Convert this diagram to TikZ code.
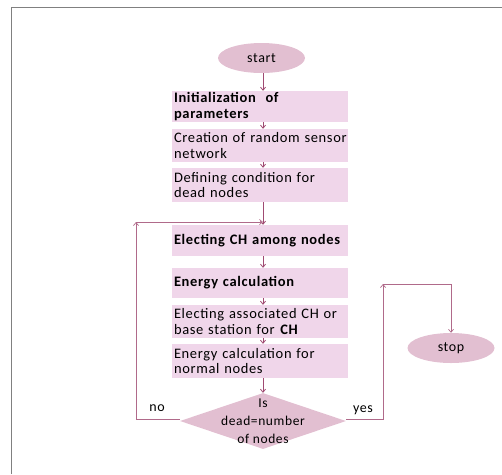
\documentclass[tikz,border=0pt]{standalone}
\usepackage{fontspec}
\setmainfont{Carlito}[LetterSpace=4.5]
\usetikzlibrary{shapes.geometric,arrows.meta}
\definecolor{boxfill}{HTML}{F0D6EA}
\definecolor{ellfill}{HTML}{E2BFD1}
\definecolor{arrcol}{HTML}{A04A72}
\definecolor{loopcol}{HTML}{B06A8A}
\definecolor{framecol}{HTML}{808080}
\newcommand{\boxfont}{\fontsize{14.5}{15.5}\selectfont\hyphenpenalty=10000\relax\exhyphenpenalty=10000\relax}
\tikzset{
  stepbox/.style={rectangle, fill=boxfill, minimum width=176pt, text width=172pt,
    inner xsep=2pt, inner ysep=0pt, align=left, font=\boxfont},
  termnode/.style={ellipse, fill=ellfill, minimum width=87pt, minimum height=30pt,
    inner sep=0pt, font=\fontsize{14}{15}\selectfont},
  arr/.style={draw=arrcol, line width=0.8pt, -{Straight Barb[length=3pt,width=5pt]}},
  loopline/.style={draw=loopcol, line width=0.7pt},
  looparr/.style={loopline, -{Straight Barb[length=3pt,width=5pt]}},
  lbl/.style={font=\fontsize{14}{15}\selectfont, inner sep=0pt}
}
\begin{document}
\begin{tikzpicture}[x=1pt,y=-1pt]
\useasboundingbox (0,0) rectangle (502,474);
\draw[framecol, line width=1pt] (11,474) -- (11,7) -- (502,7);

\node[termnode] (start) at (261.5,58) {start};
\node[stepbox, minimum height=31pt] (b1) at (260,106.5) {\textbf{Initialization\ \ of}\\\textbf{parameters}};
\node[stepbox, minimum height=33pt] (b2) at (260,145.5) {Creation of random sensor\\network};
\node[stepbox, minimum height=34pt] (b3) at (260,185) {Defining condition for\\dead nodes};
\node[stepbox, minimum height=31pt] (b4) at (260,240.5) {\textbf{Electing CH among nodes}};
\node[stepbox, minimum height=30pt] (b5) at (260,283) {\textbf{Energy calculation}};
\node[stepbox, minimum height=33pt] (b6) at (260,321.5) {Electing associated CH or\\base station for \textbf{CH}};
\node[stepbox, minimum height=34pt] (b7) at (260,361) {Energy calculation for\\normal nodes};
\node[diamond, fill=ellfill, minimum width=166pt, minimum height=56pt, inner sep=0pt] (dia) at (263,421) {};
\node[lbl, align=center, font=\fontsize{13.5}{18}\selectfont] (diat) at (dia.center) {Is\\dead=number\\of nodes};
\node[termnode] (stop) at (451,348) {stop};

\node[lbl] (no) at (157,408) {no};
\node[lbl] (yes) at (363,410) {yes};

\draw[arr] (start.south -| 263,0) -- (b1.north -| 263,0);
\draw[arr] (b1.south -| 263,0) -- (b2.north -| 263,0);
\draw[arr] (b2.south -| 263,0) -- (b3.north -| 263,0);
\draw[arr] (b3.south -| 263,0) -- (b4.north -| 263,0);
\draw[arr] (b4.south -| 263,0) -- (b5.north -| 263,0);
\draw[arr] (b5.south -| 263,0) -- (b6.north -| 263,0);
\draw[arr] (b6.south -| 263,0) -- (b7.north -| 263,0);
\draw[arr] (b7.south -| 263,0) -- (dia.north);

\coordinate (nl) at (136,419);
\coordinate (nt) at (136,222);
\coordinate (nr) at (263,222);
\draw[looparr] (dia.west |- nl) -- (nl) -- (nt);
\draw[looparr] (nt) -- (nr);

\coordinate (yr) at (383,419);
\coordinate (yt) at (383,284);
\draw[looparr] (dia.east |- yr) -- (yr) -- (yt);
\draw[looparr] (yt) -| (stop.north);
\end{tikzpicture}
\end{document}
